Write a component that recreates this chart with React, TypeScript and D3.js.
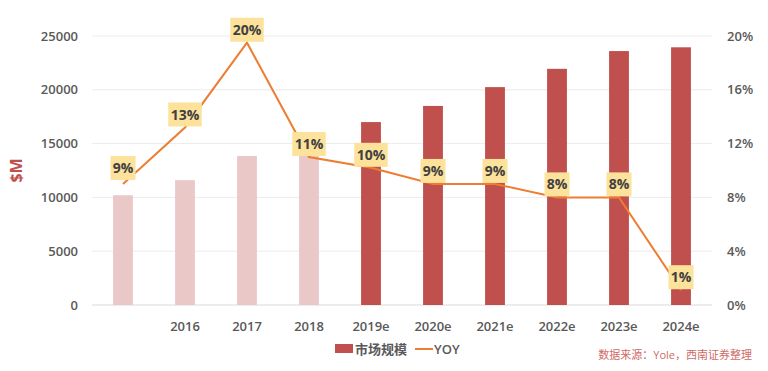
import * as d3 from "d3";
import React from "react";

const categories = ["2015", "2016", "2017", "2018", "2019e", "2020e", "2021e", "2022e", "2023e", "2024e"];
const tickLabels = ["", "2016", "2017", "2018", "2019e", "2020e", "2021e", "2022e", "2023e", "2024e"];
const marketSize = [10200, 11600, 13850, 14200, 17000, 18500, 20250, 21950, 23600, 23950];
const yoy = [9.0, 13.2, 19.5, 11.0, 10.2, 9.0, 9.0, 8.0, 8.0, 1.1];
const forecast = [false, false, false, false, true, true, true, true, true, true];
const leftTicks = [0, 5000, 10000, 15000, 20000, 25000];
const rightTicks = [0, 4, 8, 12, 16, 20];

const W = 768;
const H = 371;
const margin = { top: 36, right: 56, bottom: 66, left: 92 };
const FONT = "'Open Sans', 'Noto Sans CJK SC', sans-serif";

export default function App() {
  const x = d3
    .scaleBand()
    .domain(categories)
    .range([margin.left, W - margin.right])
    .paddingInner(0.68)
    .paddingOuter(0.34);
  const y = d3.scaleLinear().domain([0, 25000]).range([H - margin.bottom, margin.top]);
  const y2 = d3.scaleLinear().domain([0, 20]).range([H - margin.bottom, margin.top]);

  const line = d3
    .line<number>()
    .x((_, i) => x(categories[i])! + x.bandwidth() / 2)
    .y((d) => y2(d));

  return (
    <svg width={W} height={H} style={{ position: "absolute", left: 0, top: 0, background: "#fff" }} fontFamily={FONT}>
      {/* grid */}
      {leftTicks.map((t) => (
        <line key={t} x1={margin.left} x2={W - margin.right} y1={y(t)} y2={y(t)} stroke={t === 0 ? "#d9d9d9" : "#ececec"} strokeWidth={1} />
      ))}
      {/* left axis */}
      {leftTicks.map((t) => (
        <text key={t} x={78} y={y(t)} dy="0.35em" textAnchor="end" fontSize={13} fontWeight={600} fill="#595959">
          {t}
        </text>
      ))}
      {/* right axis */}
      {rightTicks.map((t) => (
        <text key={t} x={727} y={y2(t)} dy="0.35em" textAnchor="start" fontSize={13} fontWeight={600} fill="#595959">
          {t}%
        </text>
      ))}
      <text transform={`translate(16,${(margin.top + H - margin.bottom) / 2}) rotate(-90)`} textAnchor="middle" dy="0.35em" fontSize={16} fontWeight={700} fill="#C0504D">
        $M
      </text>
      {/* bars */}
      {marketSize.map((v, i) => (
        <rect key={i} x={x(categories[i])} y={y(v)} width={x.bandwidth()} height={y(0) - y(v)} fill={forecast[i] ? "#C0504D" : "#EBC8C8"} />
      ))}
      {/* x labels */}
      {tickLabels.map((t, i) => (
        <text key={i} x={x(categories[i])! + x.bandwidth() / 2} y={326} dy="0.35em" textAnchor="middle" fontSize={13} fontWeight={600} fill="#595959">
          {t}
        </text>
      ))}
      {/* yoy line */}
      <path d={line(yoy)!} fill="none" stroke="#ED7D31" strokeWidth={2} />
      {/* labels */}
      {yoy.map((v, i) => {
        const cx = x(categories[i])! + x.bandwidth() / 2;
        const cy = y2(v) - (i === 0 ? 16 : 13);
        const txt = `${Math.round(v)}%`;
        const bw = txt.length * 8.5 + 8;
        return (
          <g key={i}>
            <rect x={cx - bw / 2} y={cy - 12} width={bw} height={24} fill="#FCE29B" />
            <text x={cx} y={cy} dy="0.36em" textAnchor="middle" fontSize={14} fontWeight={700} fill="#404040">
              {txt}
            </text>
          </g>
        );
      })}
      {/* legend */}
      <rect x={335} y={344} width={18} height={9} fill="#C0504D" />
      <text x={355} y={349} dy="0.35em" fontSize={13} fontWeight={600} fill="#595959">市场规模</text>
      <line x1={415} x2={433} y1={349} y2={349} stroke="#ED7D31" strokeWidth={2} />
      <text x={434} y={349} dy="0.35em" fontSize={13} fontWeight={600} fill="#595959">YOY</text>
      <text x={752} y={355} dy="0.35em" textAnchor="end" fontSize={11} fill="#D06A66">
        数据来源：Yole，西南证券整理
      </text>
    </svg>
  );
}
